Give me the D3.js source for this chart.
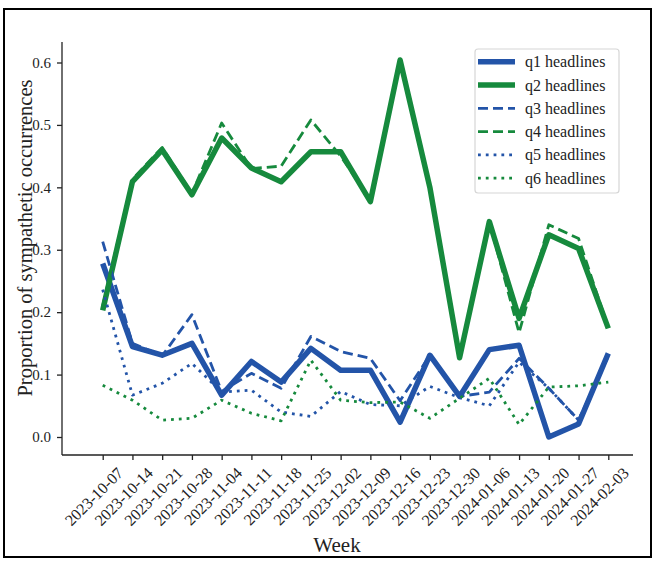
<!DOCTYPE html>
<html>
<head>
<meta charset="utf-8">
<script src="https://cdn.jsdelivr.net/npm/d3@7"></script>
<style>
  html, body { margin: 0; padding: 0; background: #fff; }
  svg { display: block; }
  text { font-family: "Liberation Serif", "Times New Roman", serif; fill: #222; }
</style>
</head>
<body>
<svg id="chart" width="655" height="561"></svg>
<script>
// Weekly proportion of sympathetic occurrences per headline question
const weeks = ["2023-10-07","2023-10-14","2023-10-21","2023-10-28","2023-11-04","2023-11-11",
  "2023-11-18","2023-11-25","2023-12-02","2023-12-09","2023-12-16","2023-12-23","2023-12-30",
  "2024-01-06","2024-01-13","2024-01-20","2024-01-27","2024-02-03"];
const q1 = [0.278,0.145,0.131,0.150,0.067,0.121,0.088,0.142,0.107,0.107,0.024,0.131,0.065,0.140,0.147,0.000,0.021,0.134];
const q2 = [0.203,0.409,0.460,0.388,0.479,0.431,0.409,0.457,0.457,0.377,0.604,0.400,0.127,0.345,0.190,0.324,0.302,0.174];
const q3 = [0.313,0.150,0.130,0.196,0.073,0.102,0.078,0.161,0.137,0.126,0.058,0.131,0.065,0.072,0.126,0.078,0.027,0.130];
const q4 = [0.210,0.413,0.464,0.390,0.503,0.430,0.434,0.508,0.450,0.380,0.602,0.400,0.127,0.345,0.167,0.340,0.318,0.175];
const q5 = [0.236,0.067,0.086,0.118,0.072,0.075,0.040,0.033,0.073,0.052,0.050,0.081,0.063,0.050,0.120,0.078,0.027,0.130];
const q6 = [0.083,0.059,0.027,0.030,0.059,0.038,0.026,0.123,0.059,0.055,0.056,0.030,0.062,0.094,0.020,0.080,0.082,0.088];
const yTicks = [0.0, 0.1, 0.2, 0.3, 0.4, 0.5, 0.6];

const BLUE = "#2354a8", GREEN = "#168a3d";
const series = [
  { name: "q1 headlines", values: q1, color: BLUE,  width: 5.5, dash: null },
  { name: "q2 headlines", values: q2, color: GREEN, width: 5.5, dash: null },
  { name: "q3 headlines", values: q3, color: BLUE,  width: 2.8, dash: "10,5" },
  { name: "q4 headlines", values: q4, color: GREEN, width: 2.8, dash: "10,5" },
  { name: "q5 headlines", values: q5, color: BLUE,  width: 2.8, dash: "2.8,5" },
  { name: "q6 headlines", values: q6, color: GREEN, width: 2.8, dash: "2.8,5" }
];

const svg = d3.select("#chart");

// figure frame
svg.append("rect").attr("x", 4).attr("y", 9).attr("width", 647).attr("height", 548)
  .attr("fill", "none").attr("stroke", "#000").attr("stroke-width", 2);

const x = d3.scalePoint().domain(weeks).range([102.7, 608.3]);
const y = d3.scaleLinear().domain([0, 0.6]).range([437, 62.5]);

const plotLeft = 62, plotRight = 633, plotTop = 42, plotBottom = 455;

// y axis
const yAxis = svg.append("g").attr("transform", `translate(${plotLeft},0)`)
  .call(d3.axisLeft(y).tickValues(yTicks).tickFormat(d3.format(".1f")).tickSize(5).tickPadding(6));
yAxis.select(".domain").remove();
yAxis.selectAll(".tick line").attr("stroke", "#222").attr("stroke-width", 1.3);
yAxis.selectAll(".tick text").style("font-size", "15px").attr("fill", "#222");

// x axis
const xAxis = svg.append("g").attr("transform", `translate(0,${plotBottom})`)
  .call(d3.axisBottom(x).tickSize(5));
xAxis.select(".domain").remove();
xAxis.selectAll(".tick line").attr("stroke", "#222").attr("stroke-width", 1.3);
xAxis.selectAll(".tick text")
  .style("font-size", "16px").attr("fill", "#222")
  .attr("text-anchor", "end").attr("dy", null).attr("y", 0)
  .attr("transform", "translate(21,19) rotate(-45)");

// spines
svg.append("line").attr("x1", plotLeft).attr("x2", plotLeft).attr("y1", plotTop).attr("y2", plotBottom)
  .attr("stroke", "#222").attr("stroke-width", 1.3);
svg.append("line").attr("x1", plotLeft).attr("x2", plotRight).attr("y1", plotBottom).attr("y2", plotBottom)
  .attr("stroke", "#222").attr("stroke-width", 1.3);

// axis titles
svg.append("text").attr("x", 337).attr("y", 552).attr("text-anchor", "middle")
  .style("font-size", "21px").text("Week");
svg.append("text").attr("transform", "translate(32,238) rotate(-90)").attr("text-anchor", "middle")
  .style("font-size", "20.5px").text("Proportion of sympathetic occurrences");

// lines
const line = d3.line().x((d, i) => x(weeks[i])).y(d => y(d));
series.forEach(s => {
  svg.append("path").datum(s.values)
    .attr("d", line)
    .attr("fill", "none")
    .attr("stroke", s.color)
    .attr("stroke-width", s.width)
    .attr("stroke-linejoin", "round")
    .attr("stroke-dasharray", s.dash);
});

// legend
const lg = svg.append("g");
lg.append("rect").attr("x", 475).attr("y", 49).attr("width", 144).attr("height", 144)
  .attr("rx", 3).attr("fill", "rgba(255,255,255,0.8)").attr("stroke", "#d6d6d6").attr("stroke-width", 1.2);
series.forEach((s, i) => {
  const yy = 61.7 + i * 23.3;
  lg.append("line").attr("x1", 478).attr("x2", 515).attr("y1", yy).attr("y2", yy)
    .attr("stroke", s.color).attr("stroke-width", s.width).attr("stroke-dasharray", s.dash);
  lg.append("text").attr("x", 525).attr("y", yy + 5.5).style("font-size", "16px").text(s.name);
});
</script>
</body>
</html>
